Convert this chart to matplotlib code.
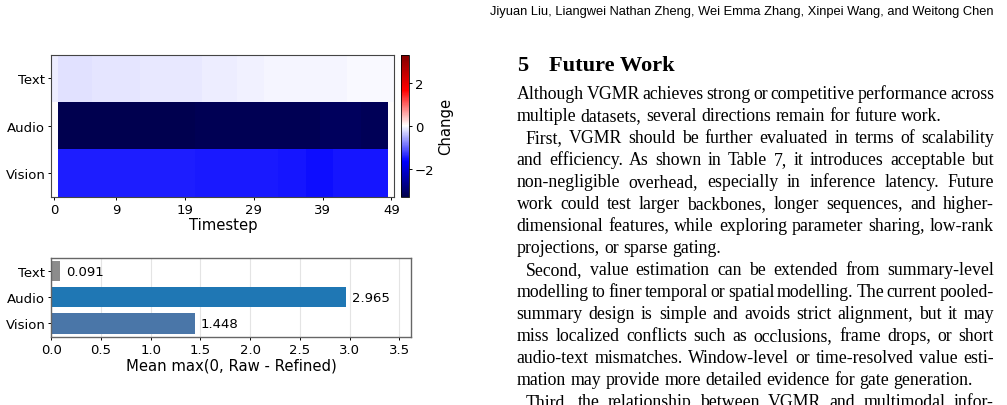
import matplotlib
matplotlib.use('Agg')
import matplotlib.pyplot as plt
from matplotlib.transforms import IdentityTransform
import numpy as np

# ---- data ----
modalities = ['Text', 'Audio', 'Vision']
timestep_ticks = [0, 9, 19, 29, 39, 49]

text_change = [-0.12,
               -0.20, -0.20, -0.20, -0.20, -0.20,
               -0.17, -0.17, -0.17, -0.17, -0.17, -0.17, -0.17,
               -0.15, -0.15, -0.15, -0.15,
               -0.13, -0.13, -0.13, -0.13, -0.13,
               -0.11, -0.11, -0.11, -0.11, -0.11,
               -0.09, -0.09, -0.09, -0.09,
               -0.06, -0.06, -0.06, -0.06, -0.06, -0.06, -0.06, -0.06, -0.06, -0.06, -0.06, -0.06,
               -0.03, -0.03, -0.03, -0.03, -0.03, -0.03, -0.03]
audio_change = [0.0,
                -3.25, -3.25, -3.25, -3.25, -3.25, -3.25, -3.25, -3.25, -3.25, -3.25,
                -3.25, -3.25, -3.25, -3.25, -3.25, -3.25, -3.25, -3.25, -3.25, -3.25,
                -3.22, -3.22, -3.22, -3.22, -3.22, -3.22, -3.22, -3.22, -3.22, -3.22,
                -3.22, -3.22, -3.22, -3.22, -3.22, -3.22, -3.22, -3.22,
                -3.12, -3.12, -3.12, -3.12, -3.12, -3.12,
                -3.18, -3.18, -3.18, -3.18,
                0.0]
vision_change = [0.0,
                 -1.45, -1.45, -1.45, -1.45, -1.45, -1.45, -1.45, -1.45, -1.45, -1.45,
                 -1.45, -1.45, -1.45, -1.45, -1.45, -1.45, -1.45, -1.45, -1.45, -1.45,
                 -1.48, -1.48, -1.48, -1.48, -1.48, -1.48, -1.48, -1.48, -1.48, -1.48, -1.48, -1.48,
                 -1.52, -1.52, -1.52, -1.52,
                 -1.55, -1.55, -1.55, -1.55,
                 -1.50, -1.50, -1.50, -1.50, -1.50, -1.50, -1.50, -1.50,
                 0.0]

bar_values = [0.091, 2.965, 1.448]
bar_colors = ['#8c8c8c', '#1f77b4', '#4a76a8']

header = "Jiyuan Liu, Liangwei Nathan Zheng, Wei Emma Zhang, Xinpei Wang, and Weitong Chen"
paragraphs = [
    ["Although VGMR achieves strong or competitive performance across",
     "multiple datasets, several directions remain for future work."],
    ["First, VGMR should be further evaluated in terms of scalability",
     "and efficiency. As shown in Table 7, it introduces acceptable but",
     "non-negligible overhead, especially in inference latency. Future",
     "work could test larger backbones, longer sequences, and higher-",
     "dimensional features, while exploring parameter sharing, low-rank",
     "projections, or sparse gating."],
    ["Second, value estimation can be extended from summary-level",
     "modelling to finer temporal or spatial modelling. The current pooled-",
     "summary design is simple and avoids strict alignment, but it may",
     "miss localized conflicts such as occlusions, frame drops, or short",
     "audio-text mismatches. Window-level or time-resolved value esti-",
     "mation may provide more detailed evidence for gate generation."],
    ["Third, the relationship between VGMR and multimodal infor-"],
]
# the last paragraph continues past the crop
paragraph_complete = [True, True, True, False]

W, H = 1007, 406
fig = plt.figure(figsize=(W / 100, H / 100), dpi=100)
renderer = fig.canvas.get_renderer()
ident = IdentityTransform()


def px_axes(l, t, r, b):
    return fig.add_axes([l / W, 1 - b / H, (r - l) / W, (b - t) / H])


spine_col = '#444444'

# ---- heatmap ----
ax1 = px_axes(51.3, 55.5, 394.5, 197.8)
data = np.array([text_change, audio_change, vision_change])
im = ax1.imshow(data, aspect='auto', cmap='seismic', vmin=-3.3, vmax=3.3,
                interpolation='nearest')
ax1.set_xlim(-0.45, 49.45)
ax1.set_yticks(range(len(modalities)))
ax1.set_yticklabels(modalities)
ax1.set_xticks(timestep_ticks)
ax1.tick_params(labelsize=9.5, length=2.3, pad=2, width=0.7)
ax1.set_xlabel('Timestep', fontsize=10.7, labelpad=1)
for s in ax1.spines.values():
    s.set_color(spine_col)
    s.set_linewidth(0.8)

cax = px_axes(401, 55.5, 408.7, 197.8)
cb = fig.colorbar(im, cax=cax)
cb.set_ticks([-2, 0, 2])
cb.ax.tick_params(labelsize=9.5, length=2.3, pad=2, width=0.7)
cb.set_label('Change', fontsize=10.7, labelpad=3)
cb.outline.set_linewidth(0.6)

# ---- bar chart ----
ax2 = px_axes(51.3, 259, 411, 338.3)
ypos = np.arange(len(modalities))
ax2.barh(ypos, bar_values, height=0.77, color=bar_colors)
for y, v in zip(ypos, bar_values):
    ax2.text(v + 0.055, y, f'{v:.3f}', va='center', ha='left', fontsize=9.5)
ax2.set_yticks(ypos)
ax2.set_yticklabels(modalities)
ax2.set_ylim(2.53, -0.51)
ax2.set_xlim(0, 3.617)
ax2.set_xticks(np.arange(0, 3.6, 0.5))
ax2.grid(axis='x', color='#e4e4e4', linewidth=0.8)
ax2.set_axisbelow(True)
ax2.tick_params(labelsize=9.5, length=2.3, pad=2, width=0.7)
ax2.set_xlabel('Mean max(0, Raw - Refined)', fontsize=10.7, labelpad=1)
for s in ax2.spines.values():
    s.set_color('#666666')
    s.set_linewidth(1.0)

# ---- paper text on the right ----
serif = 'Liberation Serif'
left_x, right_x = 516.7, 994.0
indent = 9.0


def text_width(s, **kw):
    t = fig.text(0, 0, s, transform=ident, **kw)
    w = t.get_window_extent(renderer).width
    t.remove()
    return w


def fit_size(s, target, **kw):
    w = text_width(s, fontsize=10, **kw)
    return 10 * target / w


# header, right aligned
hsize = fit_size(header, right_x - 487, family='Liberation Sans')
fig.text(right_x, H - 15, header, transform=ident, ha='right', va='baseline',
         fontsize=hsize, family='Liberation Sans')

# section heading
head_size = fit_size('Future Work', 126, family=serif, weight='bold')
fig.text(517, H - 71, '5', transform=ident, va='baseline', fontsize=head_size,
         family=serif, weight='bold')
fig.text(549, H - 71, 'Future Work', transform=ident, va='baseline',
         fontsize=head_size, family=serif, weight='bold')

# body size: the tightest justified line still keeps 0.6 of a normal space
space10 = text_width('a a', fontsize=10, family=serif) - text_width('aa', fontsize=10, family=serif)
sizes = []
for p, (lines, done) in enumerate(zip(paragraphs, paragraph_complete)):
    for i, line in enumerate(lines):
        if i == len(lines) - 1 and done:
            continue
        avail = (right_x - left_x) - (indent if (i == 0 and p > 0) else 0)
        words = line.split(' ')
        wsum = sum(text_width(w, fontsize=10, family=serif) for w in words)
        sizes.append(10 * avail / (wsum + 0.6 * space10 * (len(words) - 1)))
body_size = min(sizes)


def put_line(line, x0, x1, y, justify):
    words = line.split(' ')
    texts = [fig.text(0, 0, w, transform=ident, va='baseline', fontsize=body_size,
                      family=serif) for w in words]
    widths = [t.get_window_extent(renderer).width for t in texts]
    if justify and len(words) > 1:
        gap = (x1 - x0 - sum(widths)) / (len(words) - 1)
    else:
        gap = space10 * body_size / 10
    x = x0
    for t, w in zip(texts, widths):
        t.set_position((x, H - y))
        x += w + gap


baseline = 99.3
step = 21.96
row = 0
for p, (lines, done) in enumerate(zip(paragraphs, paragraph_complete)):
    for i, line in enumerate(lines):
        x0 = left_x + (indent if (i == 0 and p > 0) else 0)
        last = (i == len(lines) - 1) and done
        put_line(line, x0, right_x, baseline + step * row, not last)
        row += 1

fig.savefig('out.png', dpi=100)
